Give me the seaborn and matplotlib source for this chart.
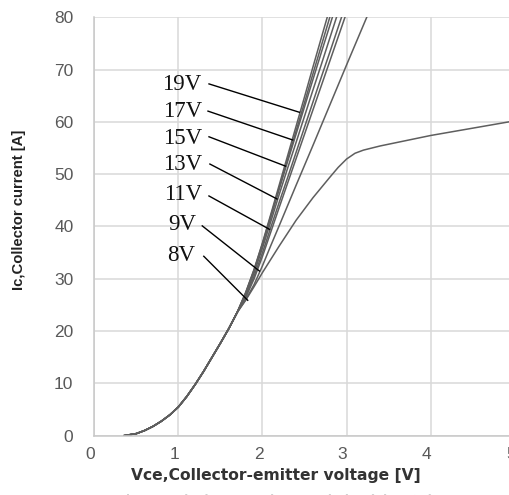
import matplotlib
matplotlib.use("Agg")
import matplotlib.pyplot as plt
from matplotlib.transforms import ScaledTranslation
import seaborn as sns
import pandas as pd

# ---- data ----
base_vce = [0.35, 0.5, 0.6, 0.7, 0.8, 0.9, 1.0, 1.1, 1.2, 1.3, 1.4, 1.5, 1.6, 1.7]
base_ic = [0.0, 0.4, 1.0, 1.8, 2.8, 4.0, 5.5, 7.5, 9.8, 12.3, 15.0, 17.7, 20.5, 23.6]

v19_vce = [1.8, 1.9, 2.0, 2.1, 2.2, 2.3, 2.4, 2.5, 2.6, 2.7, 2.8]
v19_ic = [27.4, 31.8, 36.9, 42.4, 48.0, 53.6, 59.2, 64.8, 70.5, 76.1, 81.7]
v17_vce = [1.8, 1.9, 2.0, 2.1, 2.2, 2.3, 2.4, 2.5, 2.6, 2.7, 2.8, 2.85]
v17_ic = [27.3, 31.7, 36.7, 42.1, 47.5, 52.9, 58.3, 63.7, 69.2, 74.6, 80.0, 82.7]
v15_vce = [1.8, 1.9, 2.0, 2.1, 2.2, 2.3, 2.4, 2.5, 2.6, 2.7, 2.8, 2.9]
v15_ic = [27.2, 31.5, 36.5, 41.8, 47.2, 52.5, 57.7, 62.9, 68.1, 73.3, 78.4, 83.6]
v13_vce = [1.8, 1.9, 2.0, 2.1, 2.2, 2.3, 2.4, 2.5, 2.6, 2.7, 2.8, 2.9]
v13_ic = [27.0, 31.1, 35.9, 41.0, 46.2, 51.2, 56.1, 61.1, 66.1, 71.0, 76.0, 81.0]
v11_vce = [1.8, 1.9, 2.0, 2.1, 2.2, 2.3, 2.4, 2.5, 2.6, 2.7, 2.8, 2.9, 3.0]
v11_ic = [26.7, 30.5, 35.0, 39.9, 44.7, 49.4, 54.2, 59.0, 63.8, 68.6, 73.3, 78.1, 82.9]
v10_vce = [1.8, 1.9, 2.0, 2.1, 2.2, 2.4, 2.6, 2.8, 3.0]
v10_ic = [26.4, 30.0, 34.3, 39.0, 43.7, 53.0, 62.3, 71.6, 80.9]
v9_vce = [1.8, 1.9, 2.0, 2.1, 2.2, 2.4, 2.6, 2.8, 3.0, 3.2, 3.3]
v9_ic = [26.0, 28.9, 32.5, 36.4, 40.2, 47.9, 55.5, 63.2, 70.9, 78.5, 82.3]
v8_vce = [1.8, 1.9, 2.0, 2.2, 2.4, 2.6, 2.8, 2.9, 3.0, 3.1, 3.2, 3.4, 3.7, 4.0, 4.5, 5.0]
v8_ic = [25.9, 28.5, 31.2, 36.3, 41.2, 45.5, 49.4, 51.3, 52.9, 54.0, 54.6, 55.4, 56.4, 57.4, 58.8, 60.2]

curve_names = ["19V", "17V", "15V", "13V", "11V", "10V", "9V", "8V"]
curve_vce = [v19_vce, v17_vce, v15_vce, v13_vce, v11_vce, v10_vce, v9_vce, v8_vce]
curve_ic = [v19_ic, v17_ic, v15_ic, v13_ic, v11_ic, v10_ic, v9_ic, v8_ic]

label_names = ["19V", "17V", "15V", "13V", "11V", "9V", "8V"]
label_x = [1.277, 1.277, 1.277, 1.277, 1.277, 1.218, 1.197]
label_y = [67.1, 61.9, 56.9, 51.9, 46.1, 40.3, 34.4]
leader_x0 = [1.356, 1.344, 1.356, 1.367, 1.356, 1.277, 1.296]
leader_y0 = [67.3, 62.1, 57.2, 52.0, 45.9, 40.2, 34.4]
leader_x1 = [2.446, 2.366, 2.28, 2.18, 2.09, 1.97, 1.83]
leader_y1 = [61.8, 56.5, 51.5, 45.2, 39.4, 31.4, 25.8]

x_ticks = [0, 1, 2, 3, 4, 5]
y_ticks = [0, 10, 20, 30, 40, 50, 60, 70, 80]

# ---- build long table ----
rows = []
for name, xs, ys in zip(curve_names, curve_vce, curve_ic):
    for x, y in zip(base_vce + xs, base_ic + ys):
        rows.append({"Vce": x, "Ic": y, "Vge": name})
df = pd.DataFrame(rows)

sns.set_theme(style="white")
plt.rcParams["font.family"] = ["Liberation Sans", "DejaVu Sans"]

fig = plt.figure(figsize=(5.10, 4.95), dpi=100)
ax = fig.add_axes([0.1849, 0.1198, 0.8245, 0.8453])

grid_c = "#d9d9d9"
sns.lineplot(data=df, x="Vce", y="Ic", hue="Vge", palette=["#5e5e5e"] * len(curve_names),
             sort=False, estimator=None, legend=False, linewidth=1.1, ax=ax)

for x0, y0, x1, y1 in zip(leader_x0, leader_y0, leader_x1, leader_y1):
    ax.plot([x0, x1], [y0, y1], color="black", linewidth=1.0, solid_capstyle="butt")
for name, x, y in zip(label_names, label_x, label_y):
    ax.text(x, y, name, ha="right", va="center", fontsize=16.5, color="#111111",
            family=["Liberation Serif", "DejaVu Serif"])

ax.set_xlim(0, 5)
ax.set_ylim(0, 80)
ax.set_xticks(x_ticks)
ax.set_yticks(y_ticks)
ax.grid(True, color=grid_c, linewidth=1.1)
ax.set_axisbelow(True)
for s in ["top", "right"]:
    ax.spines[s].set_visible(False)
for s in ["left", "bottom"]:
    ax.spines[s].set_color("#c8c8c8")
    ax.spines[s].set_linewidth(1.1)
ax.tick_params(axis="both", which="both", length=5, width=1.1, color=grid_c,
               labelcolor="#595959", labelsize=12.5)
ax.tick_params(axis="y", pad=10)
ax.tick_params(axis="x", pad=3)
shift = ScaledTranslation(-0.04, 0, fig.dpi_scale_trans)
for lab in ax.get_xticklabels():
    lab.set_transform(lab.get_transform() + shift)

ax.set_xlabel("Vce,Collector-emitter voltage [V]", fontsize=11.2, fontweight="bold",
              color="#333333", va="center", ha="center", family=["DejaVu Sans"])
ax.xaxis.set_label_coords(0.431, -0.094)
ax.set_ylabel("Ic,Collector current [A]", fontsize=10.7, fontweight="bold",
              color="#222222", va="center", ha="center")
ax.yaxis.set_label_coords(-0.179, 0.539)

fig.text(0.54, -0.012, "Fig.1. Typical output characteristics (Tj=25\u00b0C)", ha="center",
         va="center", fontsize=10.5, color="#d0d0d0", fontweight="bold")

fig.savefig("out.png", dpi=100)
